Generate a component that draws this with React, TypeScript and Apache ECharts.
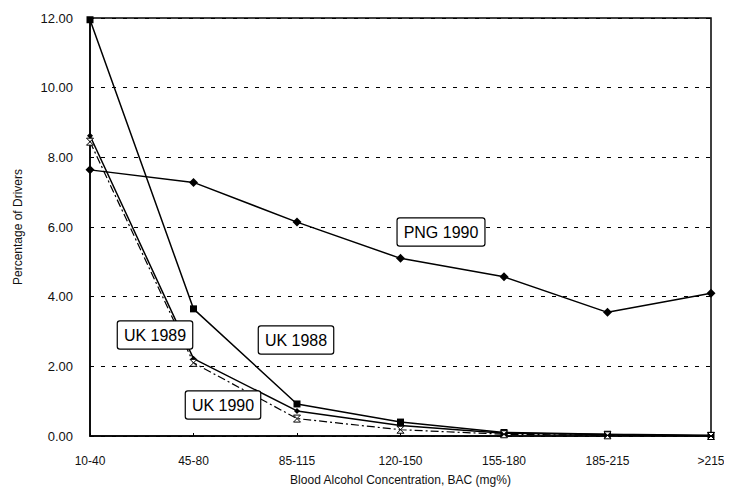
import React, { useEffect, useRef } from "react";
import * as echarts from "echarts";

const categories = ["10-40", "45-80", "85-115", "120-150", "155-180", "185-215", ">215"];
const png1990 = [7.64, 7.28, 6.14, 5.1, 4.57, 3.55, 4.1];
const uk1988 = [11.95, 3.65, 0.92, 0.4, 0.1, 0.05, 0.02];
const uk1989 = [8.62, 2.22, 0.72, 0.3, 0.08, 0.04, 0.0];
const uk1990 = [8.45, 2.1, 0.5, 0.18, 0.05, 0.02, 0.0];
const yTicks = [0, 2, 4, 6, 8, 10, 12];

const labelBoxes = [
  { text: "PNG 1990", x: 441, y: 232 },
  { text: "UK 1989", x: 155, y: 335 },
  { text: "UK 1988", x: 296, y: 340 },
  { text: "UK 1990", x: 223, y: 405 },
];

const FONT = "'Liberation Sans', Arial, sans-serif";

export default function App() {
  const ref = useRef<HTMLDivElement>(null);
  useEffect(() => {
    if (!ref.current) return;
    const chart = echarts.init(ref.current, null, { renderer: "svg" });
    const lineStyle = { color: "#000", width: 1.5 };
    chart.setOption({
      animation: false,
      backgroundColor: "#fff",
      textStyle: { fontFamily: FONT },
      grid: { left: 90, right: 21, top: 18, bottom: 61, show: true, borderColor: "#000", borderWidth: 1.5 },
      xAxis: {
        type: "category",
        data: categories,
        boundaryGap: false,
        axisLine: { lineStyle: { color: "#000", width: 1.5 } },
        axisTick: { show: true, length: 3, inside: true, lineStyle: { color: "#000" } },
        axisLabel: { color: "#111", fontSize: 12, margin: 19, fontFamily: FONT },
        name: "Blood Alcohol Concentration, BAC (mg%)",
        nameLocation: "middle",
        nameGap: 44,
        nameTextStyle: { color: "#111", fontSize: 12, fontFamily: FONT, verticalAlign: "middle" },
      },
      yAxis: {
        type: "value",
        min: 0,
        max: 12,
        interval: 2,
        axisLine: { show: true, lineStyle: { color: "#000", width: 1.5 } },
        axisTick: { show: false },
        axisLabel: {
          color: "#111",
          fontSize: 13,
          margin: 17,
          fontFamily: FONT,
          formatter: (v: number) => (yTicks.includes(v) ? v.toFixed(2) : ""),
        },
        splitLine: { show: true, lineStyle: { color: "#000", type: [4, 7], width: 1 } },
        name: "Percentage of Drivers",
        nameLocation: "middle",
        nameGap: 66,
        nameTextStyle: { color: "#111", fontSize: 12, fontFamily: FONT },
      },
      series: [
        {
          name: "PNG 1990",
          type: "line",
          data: png1990,
          symbol: "diamond",
          symbolSize: 9,
          itemStyle: { color: "#000" },
          lineStyle,
        },
        {
          name: "UK 1988",
          type: "line",
          data: uk1988,
          symbol: "rect",
          symbolSize: 7,
          itemStyle: { color: "#000" },
          lineStyle,
        },
        {
          name: "UK 1989",
          type: "line",
          data: uk1989,
          symbol: "diamond",
          symbolSize: 6,
          itemStyle: { color: "#000" },
          lineStyle,
        },
        {
          name: "UK 1990",
          type: "line",
          data: uk1990,
          symbol: "path://M0,0L10,0L0,10L10,10Z",
          symbolSize: 7,
          itemStyle: { color: "#fff", borderColor: "#000", borderWidth: 1 },
          lineStyle: { color: "#000", width: 1.2, type: [8, 3, 2, 3] },
        },
      ],
      graphic: labelBoxes.map((b) => ({
        type: "text",
        x: b.x,
        y: b.y,
        z: 100,
        style: {
          text: b.text,
          fontSize: 16,
          fontFamily: FONT,
          fill: "#000",
          align: "center",
          verticalAlign: "middle",
          backgroundColor: "#fff",
          borderColor: "#000",
          borderWidth: 1.2,
          borderRadius: 2,
          padding: [6, 6, 5, 6],
        },
      })),
    });
    return () => chart.dispose();
  }, []);
  return <div ref={ref} style={{ width: 732, height: 497, margin: -8 }} />;
}
